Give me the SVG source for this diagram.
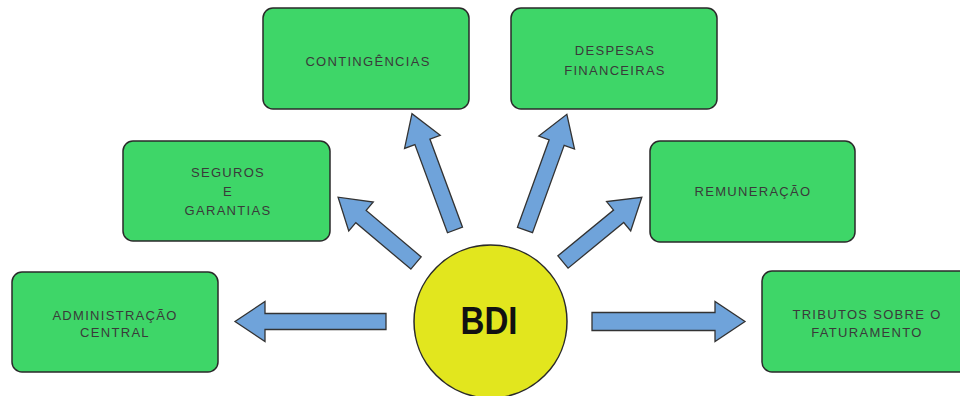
<svg xmlns="http://www.w3.org/2000/svg" width="960" height="396" viewBox="0 0 960 396">
<style>
.box{fill:#3ed668;stroke:#2a2a2a;stroke-width:1.5}
.lbl{font-family:"Liberation Sans",Arial,sans-serif;font-size:13px;fill:#3a3a3a;text-anchor:middle;letter-spacing:1.3px}
.arr{fill:#6fa3da;stroke:#333;stroke-width:1.3;stroke-linejoin:miter}
</style>
<rect width="960" height="396" fill="#fff"/>
<g id="connectors">
<path class="arr" transform="translate(386,321.5) rotate(180)" d="M0,-8 L121,-8 L121,-20 L151,0 L121,20 L121,8 L0,8 Z"/>
<path class="arr" transform="translate(592,321.5)" d="M0,-9 L123,-9 L123,-20 L153,0 L123,20 L123,9 L0,9 Z"/>
<path class="arr" transform="translate(416,263) rotate(220.2)" d="M0,-8 L72,-8 L72,-19 L102,0 L72,19 L72,8 L0,8 Z"/>
<path class="arr" transform="translate(455,230) rotate(249.7)" d="M0,-8 L94,-8 L94,-19 L124,0 L94,19 L94,8 L0,8 Z"/>
<path class="arr" transform="translate(525,230) rotate(-70.1)" d="M0,-8 L93,-8 L93,-19 L123,0 L93,19 L93,8 L0,8 Z"/>
<path class="arr" transform="translate(563,262) rotate(-39.4)" d="M0,-8 L72,-8 L72,-19 L102,0 L72,19 L72,8 L0,8 Z"/>
</g>
<g id="bdi">
<circle cx="490.5" cy="321.5" r="76.5" fill="#e2e61e" stroke="#2a2a2a" stroke-width="1.5"/>
<text x="489" y="334" font-family="'Liberation Sans',Arial,sans-serif" font-size="38" font-weight="bold" fill="#111" text-anchor="middle" textLength="57" lengthAdjust="spacingAndGlyphs">BDI</text>
</g>
<g id="administracao">
<rect class="box" x="12" y="272" width="206" height="100" rx="10"/>
<text class="lbl" x="115" y="320">ADMINISTRAÇÃO</text>
<text class="lbl" x="115" y="337">CENTRAL</text>
</g>
<g id="seguros">
<rect class="box" x="123" y="141" width="207" height="100" rx="10"/>
<text class="lbl" x="228" y="177">SEGUROS</text>
<text class="lbl" x="228" y="196">E</text>
<text class="lbl" x="228" y="215">GARANTIAS</text>
</g>
<g id="contingencias">
<rect class="box" x="263" y="8" width="206" height="101" rx="10"/>
<text class="lbl" x="368" y="66">CONTINGÊNCIAS</text>
</g>
<g id="despesas">
<rect class="box" x="511" y="8" width="206" height="101" rx="10"/>
<text class="lbl" x="615" y="55">DESPESAS</text>
<text class="lbl" x="615" y="75">FINANCEIRAS</text>
</g>
<g id="remuneracao">
<rect class="box" x="650" y="141" width="205" height="101" rx="10"/>
<text class="lbl" x="753" y="196">REMUNERAÇÃO</text>
</g>
<g id="tributos">
<rect class="box" x="762" y="271" width="210" height="101" rx="10"/>
<text class="lbl" x="867" y="319">TRIBUTOS SOBRE O</text>
<text class="lbl" x="867" y="337">FATURAMENTO</text>
</g>
</svg>
